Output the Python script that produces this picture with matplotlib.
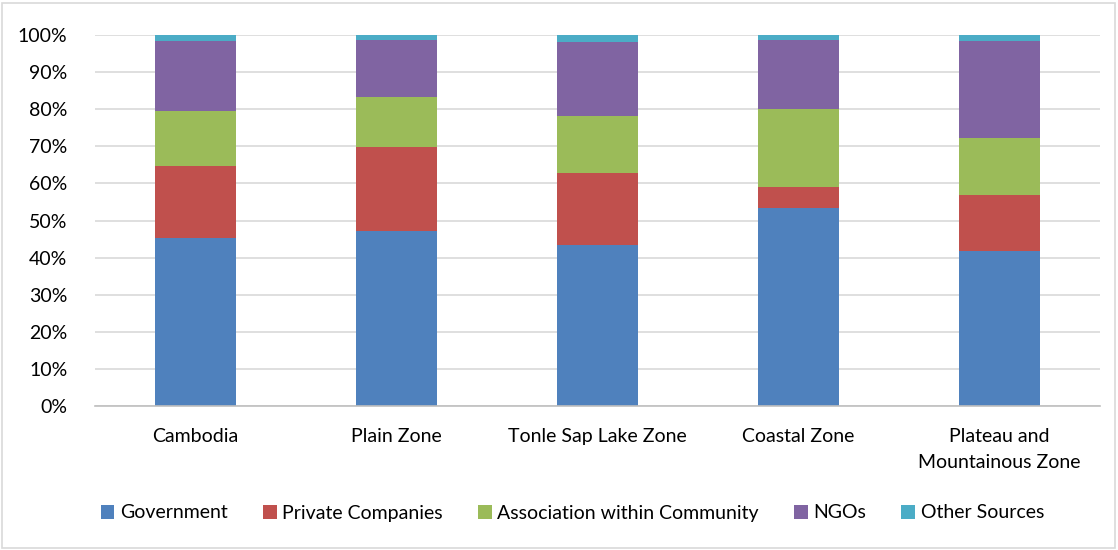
import matplotlib
matplotlib.use("Agg")
import matplotlib.pyplot as plt
import numpy as np
from matplotlib.patches import Rectangle
from matplotlib.ticker import FuncFormatter

categories = ["Cambodia", "Plain Zone", "Tonle Sap Lake Zone", "Coastal Zone",
              "Plateau and\nMountainous Zone"]
series_names = ["Government", "Private Companies", "Association within Community",
                "NGOs", "Other Sources"]
government = [45.3, 47.3, 43.4, 53.5, 41.9]
private_companies = [19.3, 22.4, 19.4, 5.5, 15.1]
association = [15.0, 13.7, 15.3, 21.0, 15.3]
ngos = [18.9, 15.3, 20.0, 18.6, 26.2]
other_sources = [1.5, 1.3, 1.9, 1.4, 1.5]
colors = ["#4F81BD", "#C0504D", "#9BBB59", "#8064A2", "#4BACC6"]

plt.rcParams['font.family'] = ['Lato', 'DejaVu Sans']

fig = plt.figure(figsize=(11.18, 5.5), dpi=100)
ax = fig.add_axes([95/1118, 1-406/550, 1005/1118, 371/550])

data = [government, private_companies, association, ngos, other_sources]
x = np.arange(len(categories))
bottom = np.zeros(len(categories))
for vals, name, c in zip(data, series_names, colors):
    v = np.array(vals)
    ax.bar(x, v, 0.40, bottom=bottom, color=c, label=name, zorder=3,
           edgecolor='none')
    bottom += v

ax.set_xlim(-0.5, len(categories) - 0.5)
ax.set_ylim(0, 100)
ax.set_yticks(np.arange(0, 101, 10))
ax.yaxis.set_major_formatter(FuncFormatter(lambda v, p: f"{int(v)}%"))
ax.set_xticks(x)
ax.set_xticklabels(categories, fontsize=14, color="#000000", linespacing=1.6)
ax.tick_params(axis='y', labelsize=14, length=0, pad=20, colors="#000000")
ax.tick_params(axis='x', length=0, pad=16)
ax.grid(axis='y', color="#D9D9D9", linewidth=1.2, zorder=0)
for s in ['top', 'right', 'left']:
    ax.spines[s].set_visible(False)
ax.spines['bottom'].set_color("#BFBFBF")
ax.spines['bottom'].set_linewidth(1.2)
ax.spines['bottom'].set_zorder(4)

handles, labels = ax.get_legend_handles_labels()
fig.legend(handles, labels, loc='center', bbox_to_anchor=(0.512, 1-513/550),
           ncol=5, frameon=False, fontsize=14, handlelength=0.7, handleheight=0.7,
           handletextpad=0.3, columnspacing=1.8)

fig.patches.append(Rectangle((2/1118, 2/550), 1113/1118, 545/550, transform=fig.transFigure,
                             fill=False, edgecolor="#D9D9D9", linewidth=1.2))

fig.savefig("out.png", dpi=100)
